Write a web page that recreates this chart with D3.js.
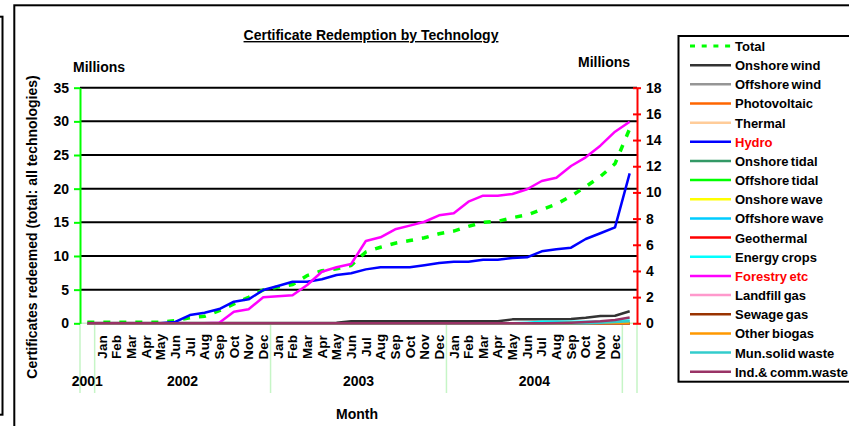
<!DOCTYPE html>
<html>
<head>
<meta charset="utf-8">
<script src="https://cdn.jsdelivr.net/npm/d3@7"></script>
<style>
  body { margin: 0; background: #fff; }
  svg { display: block; font-family: "Liberation Sans", Arial, sans-serif; font-weight: bold; }
</style>
</head>
<body>
<svg id="chart" width="849" height="426"></svg>
<script>
// category axis: one blank month for 2001, 36 months 2002-2004, one blank after
const monthLabels = ["",
  "Jan","Feb","Mar","Apr","May","Jun","Jul","Aug","Sep","Oct","Nov","Dec",
  "Jan","Feb","Mar","Apr","May","Jun","Jul","Aug","Sep","Oct","Nov","Dec",
  "Jan","Feb","Mar","Apr","May","Jun","Jul","Aug","Sep","Oct","Nov","Dec",
  ""];
const yearLabels = ["2001", "2002", "2003", "2004", ""];
const yearSpans = [1, 12, 12, 12, 1];

const leftTicks = [0, 5, 10, 15, 20, 25, 30, 35];
const rightTicks = [0, 2, 4, 6, 8, 10, 12, 14, 16, 18];

// millions of certificates
const total = [0.15, 0.15, 0.15, 0.15, 0.15, 0.15, 0.4, 0.83, 1.04, 1.87, 2.87, 3.86, 4.95,
  5.4, 5.75, 7.1, 7.8, 8.1, 8.6, 10.6, 11.3, 11.9, 12.3, 12.7, 13.3,
  13.7, 14.4, 15.0, 15.15, 15.7, 16.1, 16.9, 17.7, 18.9, 20.3, 21.8, 23.7, 28.9];
const onshoreWind = [0.02, 0.02, 0.02, 0.02, 0.02, 0.02, 0.02, 0.02, 0.02, 0.02, 0.02, 0.02, 0.02,
  0.02, 0.02, 0.02, 0.02, 0.05, 0.15, 0.15, 0.15, 0.15, 0.15, 0.15, 0.15,
  0.15, 0.15, 0.15, 0.15, 0.3, 0.3, 0.3, 0.3, 0.32, 0.42, 0.56, 0.58, 0.92];
const offshoreWind = [0,0,0,0,0,0,0,0,0,0,0,0,0, 0,0,0,0,0,0,0,0,0,0,0,0, 0,0,0,0,0,0,0,0,0,0,0,0,0];
const photovoltaic = [0,0,0,0,0,0,0,0,0,0,0,0,0, 0,0,0,0,0,0,0,0,0,0,0,0, 0,0,0,0,0,0,0,0,0,0,0,0,0];
const thermal = [0,0,0,0,0,0,0,0,0,0,0,0,0, 0,0,0,0,0,0,0,0,0,0,0,0, 0,0,0,0,0,0,0,0,0,0,0,0,0];
const hydro = [0, 0, 0, 0, 0, 0, 0.1, 0.63, 0.81, 1.09, 1.65, 1.83, 2.54,
  2.85, 3.18, 3.18, 3.36, 3.69, 3.82, 4.12, 4.28, 4.28, 4.28, 4.43, 4.6,
  4.71, 4.71, 4.86, 4.86, 4.99, 5.04, 5.5, 5.65, 5.78, 6.44, 6.88, 7.33, 11.46];
const onshoreTidal = [0,0,0,0,0,0,0,0,0,0,0,0,0, 0,0,0,0,0,0,0,0,0,0,0,0, 0,0,0,0,0,0,0,0,0,0,0,0,0];
const offshoreTidal = [0,0,0,0,0,0,0,0,0,0,0,0,0, 0,0,0,0,0,0,0,0,0,0,0,0, 0,0,0,0,0,0,0,0,0,0,0,0,0];
const onshoreWave = [0,0,0,0,0,0,0,0,0,0,0,0,0, 0,0,0,0,0,0,0,0,0,0,0,0, 0,0,0,0,0,0,0,0,0,0,0,0,0];
const offshoreWave = [0,0,0,0,0,0,0,0,0,0,0,0,0, 0,0,0,0,0,0,0,0,0,0,0,0, 0,0,0,0,0,0,0,0,0,0,0,0,0];
const geothermal = [0,0,0,0,0,0,0,0,0,0,0,0,0, 0,0,0,0,0,0,0,0,0,0,0,0, 0,0,0,0,0,0,0,0,0,0,0,0,0];
const energyCrops = [0,0,0,0,0,0,0,0,0,0,0,0,0, 0,0,0,0,0,0,0,0,0,0,0,0,
  0, 0, 0, 0, 0, 0.05, 0.12, 0.12, 0.12, 0.12, 0.12, 0.15, 0.22];
const forestry = [0, 0, 0, 0, 0, 0, 0, 0, 0, 0.05, 0.89, 1.07, 1.99,
  2.07, 2.14, 2.93, 3.94, 4.28, 4.53, 6.29, 6.57, 7.18, 7.46, 7.76, 8.25,
  8.4, 9.29, 9.75, 9.75, 9.88, 10.24, 10.87, 11.12, 12.02, 12.68, 13.57, 14.64, 15.4];
const landfillGas = [0,0,0,0,0,0,0,0,0,0,0,0,0, 0,0,0,0,0,0,0,0,0,0,0,0, 0,0,0,0,0,0,0,0,0,0,0,0,0];
const sewageGas = [0,0,0,0,0,0,0,0,0,0,0,0,0, 0,0,0,0,0,0,0,0,0,0,0,0, 0,0,0,0,0,0,0,0,0,0,0,0,0];
const otherBiogas = [0,0,0,0,0,0,0,0,0,0,0,0,0, 0,0,0,0,0,0,0,0,0,0,0,0,
  0, 0, 0, 0, 0, 0, 0, 0, 0.03, 0.03, 0.03, 0.03, 0.03];
const munWaste = [0,0,0,0,0,0,0,0,0,0,0,0,0, 0,0,0,0,0,0,0,0,0,0,0,0,
  0, 0, 0, 0, 0, 0, 0, 0, 0, 0, 0.05, 0.1, 0.15];
const indWaste = [0,0,0,0,0,0,0,0,0,0,0,0,0, 0,0,0,0,0,0,0,0,0,0,0,0,
  0, 0, 0, 0, 0, 0, 0, 0.02, 0.05, 0.1, 0.15, 0.25, 0.45];

const seriesNames = ["Total", "Onshore wind", "Offshore wind", "Photovoltaic", "Thermal", "Hydro",
  "Onshore tidal", "Offshore tidal", "Onshore wave", "Offshore wave", "Geothermal", "Energy crops",
  "Forestry etc", "Landfill gas", "Sewage gas", "Other biogas", "Mun.solid waste", "Ind.& comm.waste"];
const seriesValues = [total, onshoreWind, offshoreWind, photovoltaic, thermal, hydro,
  onshoreTidal, offshoreTidal, onshoreWave, offshoreWave, geothermal, energyCrops,
  forestry, landfillGas, sewageGas, otherBiogas, munWaste, indWaste];
const seriesColors = ["#00ff00", "#333333", "#969696", "#ff6600", "#ffcc99", "#0000ff",
  "#339966", "#00ff00", "#ffff00", "#00ccff", "#ff0000", "#00ffff",
  "#ff00ff", "#ff99cc", "#993300", "#ff9900", "#33cccc", "#993366"];
const redLabels = ["Hydro", "Forestry etc"];

const width = 849, height = 426;
const plotLeft = 80, plotRight = 637, plotTop = 87.7, plotBottom = 323.3;

const svg = d3.select("#chart");

// outer frames
svg.append("rect")
  .attr("x", -50).attr("y", 16.7).attr("width", 52.5).attr("height", 398)
  .attr("fill", "none").attr("stroke", "#000").attr("stroke-width", 2);
svg.append("rect")
  .attr("x", 14.3).attr("y", 5.3).attr("width", 900).attr("height", 500)
  .attr("fill", "none").attr("stroke", "#000").attr("stroke-width", 2);

const categories = monthLabels.map((m, i) => i + ":" + m);
const x = d3.scaleBand(categories, [plotLeft, plotRight]);
const yL = d3.scaleLinear([0, 35], [plotBottom, plotTop]);
const yR = d3.scaleLinear([0, 18], [plotBottom, plotTop]);
const cx = i => x(categories[i]) + x.bandwidth() / 2;

// gridlines
svg.append("g")
  .selectAll("line")
  .data(leftTicks.slice(1))
  .join("line")
  .attr("x1", plotLeft).attr("x2", plotRight)
  .attr("y1", d => yL(d)).attr("y2", d => yL(d))
  .attr("stroke", "#000").attr("stroke-width", 2);

// category axis line and group separators
svg.append("line")
  .attr("x1", plotLeft).attr("x2", plotRight)
  .attr("y1", plotBottom).attr("y2", plotBottom)
  .attr("stroke", "#c6f5c6").attr("stroke-width", 1.5);

const bounds = [0];
yearSpans.forEach(s => bounds.push(bounds[bounds.length - 1] + s));
const boundX = bounds.map(b => b < categories.length ? x(categories[b]) : x.range()[1]);
svg.append("g")
  .selectAll("line")
  .data(boundX)
  .join("line")
  .attr("x1", d => d).attr("x2", d => d)
  .attr("y1", plotBottom).attr("y2", 393)
  .attr("stroke", "#c6f5c6").attr("stroke-width", 1.5);

svg.append("g")
  .selectAll("text")
  .data(yearLabels)
  .join("text")
  .attr("x", (d, i) => (boundX[i] + boundX[i + 1]) / 2)
  .attr("y", 386)
  .attr("text-anchor", "middle")
  .attr("font-size", 14)
  .text(d => d);

// month labels
const xAxis = d3.axisBottom(x).tickSize(0).tickFormat((d, i) => monthLabels[i]);
svg.append("g")
  .attr("transform", `translate(0,${plotBottom})`)
  .call(xAxis)
  .call(g => g.select(".domain").remove())
  .call(g => g.selectAll("text")
    .attr("transform", "rotate(-90)")
    .attr("x", -23.7).attr("y", 0).attr("dy", "0.35em")
    .attr("text-anchor", "middle")
    .attr("font-size", 13.5).attr("font-family", null).attr("fill", "#000"));

// left axis
svg.append("g")
  .attr("transform", `translate(${plotLeft},0)`)
  .call(d3.axisLeft(yL).tickValues(leftTicks).tickSize(6).tickSizeOuter(0).tickPadding(5))
  .call(g => g.select(".domain").attr("stroke", "#00ff00").attr("stroke-width", 2))
  .call(g => g.selectAll(".tick line").attr("stroke", "#00ff00").attr("stroke-width", 2))
  .call(g => g.selectAll("text").attr("font-size", 14).attr("font-family", null).attr("fill", "#000"));

// right axis
svg.append("g")
  .attr("transform", `translate(${plotRight},0)`)
  .call(d3.axisRight(yR).tickValues(rightTicks).tickSize(4).tickSizeOuter(0).tickPadding(5))
  .call(g => g.select(".domain").attr("stroke", "#ff0000").attr("stroke-width", 2))
  .call(g => g.selectAll(".tick line").attr("x1", -4).attr("stroke", "#ff0000").attr("stroke-width", 2))
  .call(g => g.selectAll("text").attr("font-size", 14).attr("font-family", null).attr("fill", "#000"));

// series
const lineL = d3.line().x((d, i) => cx(i)).y(d => yL(d));
const lineR = d3.line().x((d, i) => cx(i)).y(d => yR(d));

svg.append("path")
  .datum(total)
  .attr("d", lineL)
  .attr("fill", "none")
  .attr("stroke", seriesColors[0])
  .attr("stroke-width", 3.5)
  .attr("stroke-dasharray", "7,9");

svg.append("g")
  .selectAll("path")
  .data(seriesValues.slice(1))
  .join("path")
  .attr("d", lineR)
  .attr("fill", "none")
  .attr("stroke", (d, i) => seriesColors[i + 1])
  .attr("stroke-width", 2.5)
  .attr("stroke-linejoin", "round");

// titles
svg.append("text")
  .attr("x", 371).attr("y", 40)
  .attr("text-anchor", "middle")
  .attr("font-size", 14)
  .attr("text-decoration", "underline")
  .text("Certificate Redemption by Technology");
svg.append("text").attr("x", 73).attr("y", 72).attr("font-size", 14).text("Millions");
svg.append("text").attr("x", 578).attr("y", 67).attr("font-size", 14).text("Millions");
svg.append("text")
  .attr("transform", "translate(37,227) rotate(-90)")
  .attr("text-anchor", "middle")
  .attr("font-size", 14)
  .text("Certificates redeemed (total: all technologies)");
svg.append("text")
  .attr("x", 357).attr("y", 419)
  .attr("text-anchor", "middle")
  .attr("font-size", 14)
  .text("Month");

// legend
const legend = svg.append("g");
legend.append("rect")
  .attr("x", 678.5).attr("y", 36).attr("width", 220).attr("height", 345.7)
  .attr("fill", "#fff").attr("stroke", "#000").attr("stroke-width", 2);
const rowY = i => 46 + i * 19.16;
const items = legend.selectAll("g.item")
  .data(seriesNames)
  .join("g")
  .attr("class", "item")
  .attr("transform", (d, i) => `translate(0,${rowY(i)})`);
items.append("line")
  .attr("x1", 690).attr("x2", 731)
  .attr("stroke", (d, i) => seriesColors[i])
  .attr("stroke-width", (d, i) => i === 0 ? 3 : 2.5)
  .attr("stroke-dasharray", (d, i) => i === 0 ? "5,6.7" : null);
items.append("text")
  .attr("x", 735).attr("y", 5)
  .attr("font-size", 13)
  .attr("word-spacing", -1.2)
  .attr("fill", d => redLabels.includes(d) ? "#ff0000" : "#000")
  .text(d => d);
</script>
</body>
</html>
